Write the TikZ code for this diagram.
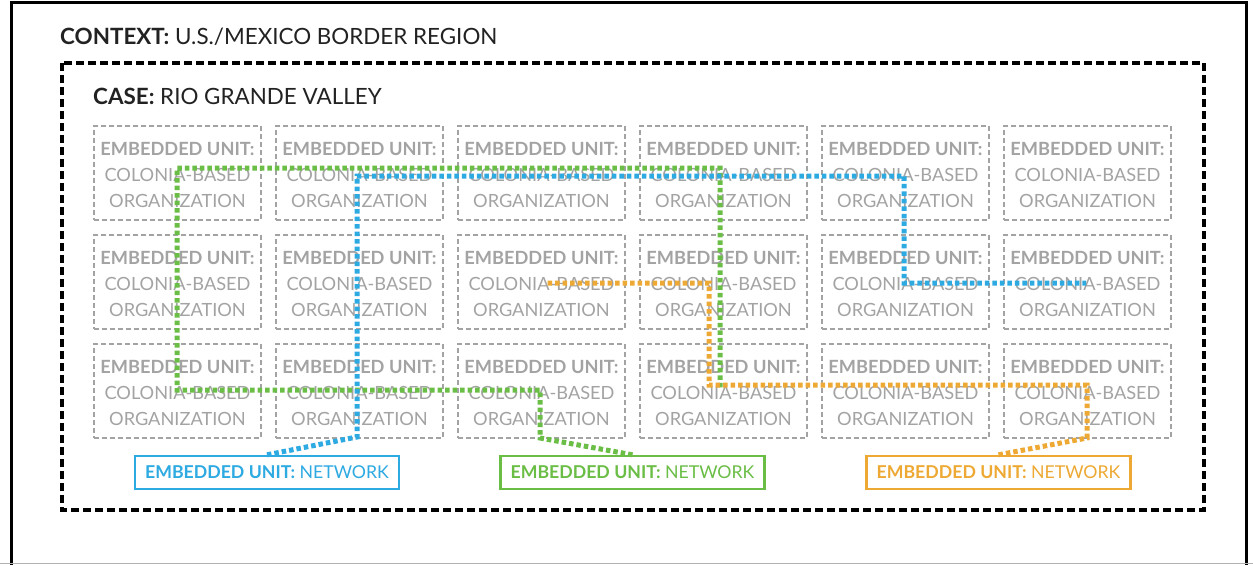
\documentclass[tikz,border=0pt]{standalone}
\usepackage{fontspec}
\setmainfont{Lato}
\definecolor{unitgray}{HTML}{A3A3A3}
\definecolor{netblue}{HTML}{2DAAE1}
\definecolor{netgreen}{HTML}{6ABD45}
\definecolor{netorange}{HTML}{EDA933}
\definecolor{titlegray}{HTML}{222222}
\begin{document}
\begin{tikzpicture}[x=1pt,y=-1pt,
  unitbox/.style={draw=unitgray, line width=2.6pt, dash pattern=on 5pt off 3pt,
    minimum width=167pt, minimum height=94pt, inner sep=0pt},
  unittext/.style={text=unitgray, font=\fontsize{18.2}{26}\selectfont, align=center, inner sep=0pt},
  netbox/.style={draw=#1, line width=2.4pt, minimum width=264pt, minimum height=33pt,
    inner sep=0pt, text=#1, font=\fontsize{17.7}{20}\selectfont},
  netpath/.style={draw=#1, line width=5pt, dash pattern=on 4.5pt off 3pt},
  title/.style={anchor=west, inner sep=0pt, text=titlegray, font=\fontsize{22.4}{26}\selectfont}
]
\useasboundingbox (0,0) rectangle (1253,565);
\fill[white] (0,0) rectangle (1253,565);
% outer frame
\draw[black, line width=3pt] (11.5,565) -- (11.5,2) -- (1246.5,2) -- (1246.5,565);
\draw[gray!60, line width=1pt] (0,563.5) -- (1253,563.5);
% case frame
\draw[black, line width=3.5pt, dash pattern=on 8pt off 4pt] (62,63) rectangle (1204,510);
\node[title] (context) at (60,37) {\textbf{CONTEXT:} U.S./MEXICO BORDER REGION};
\node[title] (case) at (93,96) {\textbf{CASE:} RIO GRANDE VALLEY};
% grid of units
\foreach \c in {1,...,6}{
  \foreach \r in {1,2,3}{
    \node[unitbox] (u\r\c) at ({177.5+182*(\c-1)},{173+109*(\r-1)}) {};
    \node[unittext] (t\r\c) at ([yshift=-1.5pt]u\r\c.center)
      {\textbf{EMBEDDED UNIT:}\\COLONIA-BASED\\ORGANIZATION};
  }
}
% network boxes
\node[netbox=netblue] (nblue) at (267,472.5) {\textbf{EMBEDDED UNIT:} NETWORK};
\node[netbox=netgreen] (ngreen) at (632.5,472.5) {\textbf{EMBEDDED UNIT:} NETWORK};
\node[netbox=netorange] (norange) at (998.5,472.5) {\textbf{EMBEDDED UNIT:} NETWORK};
% green network path
\coordinate (g1) at (540,438);
\coordinate (g2) at (540,390);
\coordinate (g3) at (177,390);
\coordinate (g4) at (177,168);
\coordinate (g5) at (720,168);
\coordinate (g6) at (720,388);
\draw[netpath=netgreen] (ngreen.north) -- (g1) -- (g2) -- (g3) -- (g4) -- (g5) -- (g6);
% blue network path
\coordinate (b1) at (357,437);
\coordinate (b2) at (357,176);
\coordinate (b3) at (904,176);
\coordinate (b4) at (904,283);
\coordinate (b5) at (1086,283);
\draw[netpath=netblue] (nblue.north) -- (b1) -- (b2) -- (b3) -- (b4) -- (b5);
% orange network path
\coordinate (o1) at (1087,438);
\coordinate (o2) at (1087,385);
\coordinate (o3) at (709,385);
\coordinate (o4) at (709,283);
\coordinate (o5) at (545,283);
\draw[netpath=netorange] (norange.north) -- (o1) -- (o2) -- (o3) -- (o4) -- (o5);
\end{tikzpicture}
\end{document}
